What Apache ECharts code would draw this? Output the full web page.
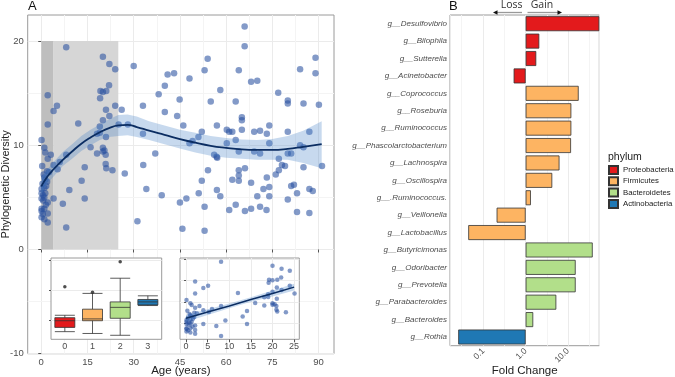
<!DOCTYPE html>
<html>
<head>
<meta charset="utf-8">
<script src="https://cdn.jsdelivr.net/npm/echarts@6/dist/echarts.min.js"></script>
<style>
html, body { margin: 0; padding: 0; background: #fff; }
#chart { width: 675px; height: 377px; }
</style>
</head>
<body>
<div id="chart"></div>
<script>
// panel A: [age, phylogenetic diversity]
var samples = [
    [0.1,10.5],[1.0,9.75],[1.3,9.3],[3.1,9.1],[2.1,8.7],[4.0,8.1],[6.0,8.4],[8.1,9.1],[5.3,7.7],[1.9,7.5],
    [2.5,7.4],[1.0,6.9],[1.3,6.7],[1.9,6.5],[0.1,5.8],[1.0,5.9],[0.1,5.4],[1.3,5.4],[0.6,5.2],[0.1,4.9],
    [1.0,5.0],[2.1,4.5],[0.6,4.7],[4.0,4.9],[7.0,4.4],[9.1,5.7],[0.1,3.9],[1.0,3.9],[0.1,3.7],[2.1,3.45],
    [0.1,3.1],[1.0,2.9],[2.1,2.6],[8.1,2.1],[13.1,6.6],[14.1,4.9],[14.1,7.9],[16.0,9.8],[18.1,9.2],[20.0,9.75],
    [20.5,9.5],[20.9,9.1],[20.0,9.4],[20.9,8.2],[21.1,7.8],[23.1,7.6],[21.0,10.8],[19.0,11.2],[18.1,11.1],[8.1,19.4],
    [20.0,18.5],[22.1,17.8],[24.0,17.3],[22.0,15.75],[19.2,15.2],[20.0,15.1],[21.1,15.2],[19.1,14.5],[2.1,14.8],[5.1,13.8],
    [4.0,13.3],[2.1,12.0],[12.0,12.1],[24.0,13.8],[21.0,13.4],[22.1,12.8],[20.0,12.4],[19.0,11.8],[25.1,12.0],[0.4,6.3],
    [0.8,7.2],[1.6,6.1],[0.3,8.0],[1.5,4.3],[0.5,3.4],
    [30.0,17.6],[33.0,13.8],[28.1,12.0],[26.1,13.4],[33.0,11.1],[37.0,9.2],[33.1,8.1],[27.1,7.3],[34.1,5.8],[39.1,5.2],
    [31.2,2.7],[38.1,14.9],[40.1,15.7],[40.1,13.2],[41.0,16.8],[43.1,16.9],[44.1,12.8],[44.9,14.4],[45.0,4.5],[45.8,2.0],
    [46.1,11.9],[48.1,16.4],[54.0,18.3],[53.0,17.2],[66.0,21.4],[66.0,19.5],[64.1,17.2],[68.1,16.1],[70.1,16.2],[58.1,15.3],
    [55.0,14.2],[63.1,14.2],[76.9,15.05],[80.0,14.3],[80.0,14.0],[85.1,14.0],[90.1,13.9],[84.0,17.3],[89.0,18.4],[89.0,16.9],
    [52.1,11.3],[57.0,11.9],[60.2,11.5],[61.0,11.3],[62.0,11.3],[65.1,12.7],[65.1,12.4],[65.1,11.5],[69.1,11.3],[71.0,11.4],
    [73.2,11.1],[74.0,11.9],[80.0,11.3],[87.0,11.3],[48.1,10.2],[49.1,10.4],[51.0,10.8],[60.2,10.2],[63.1,10.5],[74.0,10.2],
    [84.0,10.0],[85.1,9.8],[56.1,9.1],[56.9,8.9],[57.1,8.8],[64.1,9.4],[69.1,9.4],[71.0,9.2],[80.0,9.2],[81.1,9.2],
    [77.1,8.7],[78.1,8.1],[79.1,8.0],[85.1,7.9],[91.1,8.0],[54.1,7.6],[64.1,7.6],[64.1,7.1],[64.1,6.6],[66.1,7.8],
    [62.0,6.7],[68.1,6.4],[73.2,6.9],[76.1,7.2],[77.1,7.6],[52.1,6.6],[57.0,5.7],[58.1,5.1],[51.1,5.4],[47.1,4.9],
    [53.0,4.1],[61.0,3.8],[63.1,4.3],[66.1,3.7],[68.1,3.9],[70.1,5.1],[72.1,5.8],[74.0,6.0],[74.0,5.1],[71.0,4.1],
    [73.1,3.8],[80.0,4.8],[81.1,6.1],[82.0,6.2],[83.0,5.4],[83.0,3.6],[87.0,5.8],[88.1,5.6],[87.0,3.5],[53.0,1.8]
];

// loess fit + ribbon
var smoothAge   = [0, 2, 4, 7, 10, 13, 16, 19, 22, 25, 28, 31, 35, 40, 45, 50, 55, 60, 65, 70, 75, 80, 85, 91];
var smoothFit   = [6.05, 7.0, 7.7, 8.6, 9.4, 10.15, 10.75, 11.25, 11.65, 11.9, 11.95, 11.75, 11.4, 11.0, 10.6, 10.25, 9.95, 9.75, 9.6, 9.55, 9.55, 9.65, 9.85, 10.1];
var smoothLower = [5.3, 6.3, 7.0, 8.0, 8.7, 9.45, 10.0, 10.5, 10.8, 10.9, 10.95, 10.8, 10.5, 10.1, 9.7, 9.3, 9.0, 8.8, 8.7, 8.6, 8.6, 8.6, 8.3, 7.8];
var smoothUpper = [6.9, 7.7, 8.4, 9.35, 10.1, 10.9, 11.5, 12.0, 12.5, 12.9, 12.95, 12.75, 12.3, 11.9, 11.5, 11.2, 10.9, 10.7, 10.55, 10.5, 10.6, 10.9, 11.4, 12.3];

// shaded age windows [from, to]
var infantWindow = [0, 4];
var youngWindow = [4, 25];

// tick values
var ageTicks = [0, 15, 30, 45, 60, 75, 90];
var ageMinor = [7.5, 22.5, 37.5, 52.5, 67.5, 82.5];
var pdTicks = [-10, 0, 10, 20];
var pdMinor = [-5, 5, 15];
var insetAgeTicks = [0, 5, 10, 15, 20, 25];
var insetPdTicks = [5, 10, 15, 20];
var boxPdTicks = [5, 10, 15];

// inset 1: boxplot by age group, [min, q1, median, q3, max]
var boxGroups = ['0', '1', '2', '3'];
var boxStats = [
    [3.2, 3.9, 5.0, 5.5, 5.9],
    [2.9, 5.0, 5.3, 6.9, 9.5],
    [2.6, 5.4, 7.2, 8.1, 12.0],
    [7.5, 7.6, 8.1, 8.5, 9.1]
];
var boxOutliers = [['0', 10.6], ['1', 9.7], ['2', 14.7]];

// inset 2: linear fit for ages 0-25
var insetAge   = [0, 5, 10, 15, 20, 25];
var insetFit   = [6.2, 7.66, 9.1, 10.6, 12.0, 13.5];
var insetLower = [5.4, 7.0, 8.55, 10.05, 11.3, 12.7];
var insetUpper = [7.0, 8.3, 9.65, 11.15, 12.7, 14.3];

// panel B
var genera = ['g__Desulfovibrio', 'g__Bilophila', 'g__Sutterella', 'g__Acinetobacter', 'g__Coprococcus',
    'g__Roseburia', 'g__Ruminococcus', 'g__Phascolarctobacterium', 'g__Lachnospira', 'g__Oscillospira',
    'g__.Ruminococcus.', 'g__Veillonella', 'g__Lactobacillus', 'g__Butyricimonas', 'g__Odoribacter',
    'g__Prevotella', 'g__Parabacteroides', 'g__Bacteroides', 'g__Rothia'];
var foldChange = [55, 2.1, 1.78, 0.52, 17.9, 12.0, 12.0, 11.8, 6.3, 4.25,
    1.33, 0.206, 0.044, 38.4, 15.2, 15.2, 5.3, 1.51, 0.0255];
var generaPhylum = ['Proteobacteria', 'Proteobacteria', 'Proteobacteria', 'Proteobacteria', 'Firmicutes',
    'Firmicutes', 'Firmicutes', 'Firmicutes', 'Firmicutes', 'Firmicutes',
    'Firmicutes', 'Firmicutes', 'Firmicutes', 'Bacteroidetes', 'Bacteroidetes',
    'Bacteroidetes', 'Bacteroidetes', 'Bacteroidetes', 'Actinobacteria'];
var phyla = ['Proteobacteria', 'Firmicutes', 'Bacteroidetes', 'Actinobacteria'];
var logMinorBreaks = [0.0316, 0.316, 3.16, 31.6];

var phylaColors = ['#e31a1c', '#fdb462', '#b2df8a', '#1f78b4'];
var pointColor = 'rgba(40,80,160,0.72)';
var bandColor = 'rgba(70,130,200,0.3)';
var fitColor = '#0b2d62';
var gridCol = '#ebebeb';
var minorCol = '#f4f4f4';
var frameCol = '#9a9a9a';
var labelCol = '#4d4d4d';
var font = 'Liberation Sans';

var chart = echarts.init(document.getElementById('chart'), null, { renderer: 'canvas' });

function ribbon(xs, lo, hi, color) {
    return function (params, api) {
        if (params.dataIndex !== 0) return null;
        var pts = [];
        for (var i = 0; i < xs.length; i++) pts.push(api.coord([xs[i], hi[i]]));
        for (var j = xs.length - 1; j >= 0; j--) pts.push(api.coord([xs[j], lo[j]]));
        return { type: 'polygon', shape: { points: pts }, style: { fill: color } };
    };
}

function zip(a, b) {
    return a.map(function (v, i) { return [v, b[i]]; });
}

function valueAxis(gridIndex, min, max, ticks, extra) {
    var ax = {
        type: 'value', gridIndex: gridIndex, min: min, max: max,
        axisLine: { show: false },
        axisTick: { show: true, length: 3, lineStyle: { color: '#555' }, customValues: ticks },
        axisLabel: { fontSize: 9.5, color: labelCol, margin: 4, fontFamily: font, customValues: ticks },
        splitLine: { lineStyle: { color: gridCol } }
    };
    return echarts.util.merge(ax, extra || {}, true);
}

function minorLines(xs, ys) {
    return {
        silent: true, symbol: 'none', z: 0,
        label: { show: false },
        lineStyle: { color: minorCol, type: 'solid', width: 1 },
        data: xs.map(function (v) { return { xAxis: v }; })
            .concat(ys.map(function (v) { return { yAxis: v }; }))
    };
}

var barSeries = phyla.map(function (p, k) {
    var s = {
        type: 'bar',
        name: p,
        xAxisIndex: 3,
        yAxisIndex: 3,
        barGap: '-100%',
        barCategoryGap: '14%',
        z: 3,
        itemStyle: { color: phylaColors[k], borderColor: '#333', borderWidth: 0.8 },
        data: foldChange.map(function (v, i) { return generaPhylum[i] === p ? v : '-'; })
    };
    if (k === 0) s.markLine = minorLines(logMinorBreaks, []);
    return s;
});

var gridBase = { show: true, borderColor: frameCol, borderWidth: 1, containLabel: false, outerBoundsMode: 'none' };
function grid(l, t, w, h, extra) {
    return echarts.util.merge(echarts.util.merge({ left: l, top: t, width: w, height: h }, gridBase), extra || {}, true);
}

var option = {
    animation: false,
    textStyle: { fontFamily: font },
    grid: [
        grid(27.7, 15, 306.3, 338.7, { backgroundColor: 'transparent' }),
        grid(51, 258, 110.7, 81.3, { backgroundColor: '#fff', z: 5 }),
        grid(180, 258, 119.3, 81.3, { backgroundColor: '#fff', z: 5 }),
        grid(450, 15, 149.3, 330.7, { backgroundColor: 'transparent' })
    ],
    xAxis: [
        valueAxis(0, -4.4, 95, ageTicks, {
            name: 'Age (years)', nameLocation: 'middle', nameGap: 11, nameMoveOverlap: false,
            nameTextStyle: { fontSize: 11.5, color: '#222', fontFamily: font, verticalAlign: 'top' } }),
        { type: 'category', gridIndex: 1, data: boxGroups, z: 6,
            axisLine: { show: false },
            axisTick: { length: 3, alignWithLabel: true, lineStyle: { color: '#555' } },
            axisLabel: { fontSize: 9, color: labelCol, margin: 3, fontFamily: font },
            splitLine: { show: false } },
        valueAxis(2, -1.4, 26.2, insetAgeTicks, { z: 6, axisLabel: { fontSize: 9, margin: 3 } }),
        { type: 'log', logBase: 10, gridIndex: 3, min: 0.0163, max: 55,
            axisLine: { show: false },
            axisTick: { length: 3, lineStyle: { color: '#555' } },
            axisLabel: { rotate: 45, fontSize: 8.5, color: labelCol, margin: 4, fontFamily: font,
                showMinLabel: false, showMaxLabel: false,
                formatter: function (v) { return v >= 1 ? v.toFixed(1) : String(v); } },
            splitLine: { lineStyle: { color: gridCol } },
            name: 'Fold Change', nameLocation: 'middle', nameGap: 19, nameMoveOverlap: false,
            nameTextStyle: { fontSize: 11.5, color: '#222', fontFamily: font, verticalAlign: 'top' } }
    ],
    yAxis: [
        valueAxis(0, -10, 22.5, pdTicks, {
            name: 'Phylogenetic Diversity', nameLocation: 'middle', nameGap: 16, nameMoveOverlap: false,
            nameTextStyle: { fontSize: 11, color: '#222', fontFamily: font } }),
        valueAxis(1, 1.94, 15.33, boxPdTicks, { z: 6, axisTick: { length: 2 }, axisLabel: { show: false } }),
        valueAxis(2, 1.3, 20.3, insetPdTicks, { z: 6, axisTick: { length: 2 }, axisLabel: { show: false } }),
        { type: 'category', gridIndex: 3, data: genera, inverse: true,
            axisLine: { show: false },
            axisTick: { length: 3, alignWithLabel: true, lineStyle: { color: '#555' } },
            axisLabel: { fontSize: 8, fontStyle: 'italic', color: labelCol, margin: 3, fontFamily: font },
            splitLine: { show: false } }
    ],
    legend: {
        data: phyla,
        orient: 'vertical',
        left: 608,
        top: 165,
        itemWidth: 9,
        itemHeight: 8,
        itemGap: 1.3,
        icon: 'rect',
        padding: 0,
        textStyle: { fontSize: 7.8, color: '#222', fontFamily: font, lineHeight: 9 }
    },
    series: [
        {
            type: 'scatter', xAxisIndex: 0, yAxisIndex: 0, z: 2,
            symbolSize: 6.5,
            itemStyle: { color: pointColor },
            data: samples,
            markLine: minorLines(ageMinor, pdMinor),
            markArea: {
                silent: true, z: 1,
                data: [
                    [{ xAxis: infantWindow[0], yAxis: 0, itemStyle: { color: '#bebebe' } }, { xAxis: infantWindow[1], yAxis: 20 }],
                    [{ xAxis: youngWindow[0], yAxis: 0, itemStyle: { color: '#d6d6d6' } }, { xAxis: youngWindow[1], yAxis: 20 }]
                ]
            }
        },
        {
            type: 'custom', xAxisIndex: 0, yAxisIndex: 0, z: 3, silent: true,
            data: zip(smoothAge, smoothFit),
            renderItem: ribbon(smoothAge, smoothLower, smoothUpper, bandColor)
        },
        {
            type: 'line', xAxisIndex: 0, yAxisIndex: 0, z: 4, smooth: true, showSymbol: false,
            lineStyle: { color: fitColor, width: 1.8 },
            data: zip(smoothAge, smoothFit)
        },
        {
            type: 'boxplot', xAxisIndex: 1, yAxisIndex: 1, z: 7,
            boxWidth: [20, 20],
            data: boxStats.map(function (s, i) {
                return { value: s, itemStyle: { color: phylaColors[i], borderColor: '#333', borderWidth: 0.8 } };
            })
        },
        {
            type: 'scatter', xAxisIndex: 1, yAxisIndex: 1, z: 8,
            symbolSize: 3.5, itemStyle: { color: '#222' },
            data: boxOutliers
        },
        {
            type: 'scatter', xAxisIndex: 2, yAxisIndex: 2, z: 7,
            symbolSize: 4.5, itemStyle: { color: pointColor },
            data: samples.filter(function (d) { return d[0] <= 26; })
        },
        {
            type: 'custom', xAxisIndex: 2, yAxisIndex: 2, z: 8, silent: true,
            data: zip(insetAge, insetFit),
            renderItem: ribbon(insetAge, insetLower, insetUpper, bandColor)
        },
        {
            type: 'line', xAxisIndex: 2, yAxisIndex: 2, z: 9, showSymbol: false,
            lineStyle: { color: fitColor, width: 1.5 },
            data: zip(insetAge, insetFit)
        }
    ].concat(barSeries),
    graphic: [
        { type: 'text', left: 28, top: 0, style: { text: 'A', fontSize: 13, fill: '#111', fontFamily: font } },
        { type: 'text', left: 449, top: 0, style: { text: 'B', fontSize: 13, fill: '#111', fontFamily: font } },
        { type: 'text', left: 608, top: 152, style: { text: 'phylum', fontSize: 10.5, fill: '#222', fontFamily: font } },
        { type: 'text', x: 511.7, y: 5.5, style: { text: 'Loss', fontSize: 10.5, fill: '#333', fontFamily: 'Open Sans', align: 'center', verticalAlign: 'middle' } },
        { type: 'text', x: 542, y: 5.5, style: { text: 'Gain', fontSize: 10.5, fill: '#333', fontFamily: 'Open Sans', align: 'center', verticalAlign: 'middle' } },
        { type: 'line', shape: { x1: 522, y1: 12.5, x2: 496.5, y2: 12.5 }, style: { stroke: '#999', lineWidth: 1.3 } },
        { type: 'polygon', shape: { points: [[493, 12.5], [497.5, 10.2], [497.5, 14.8]] }, style: { fill: '#111' } },
        { type: 'line', shape: { x1: 527.5, y1: 12.5, x2: 558.5, y2: 12.5 }, style: { stroke: '#999', lineWidth: 1.3 } },
        { type: 'polygon', shape: { points: [[562, 12.5], [557.5, 10.2], [557.5, 14.8]] }, style: { fill: '#111' } }
    ]
};

chart.setOption(option);
</script>
</body>
</html>
